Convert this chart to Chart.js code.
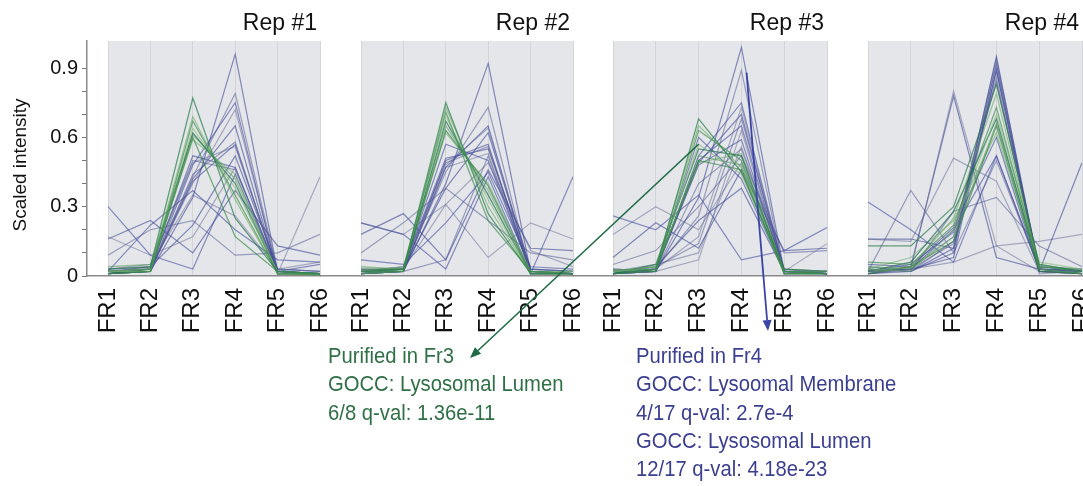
<!DOCTYPE html>
<html><head><meta charset="utf-8">
<script src="https://cdn.jsdelivr.net/npm/chart.js@4.4.1/dist/chart.umd.min.js"></script>
<style>
html,body{margin:0;padding:0;background:#fff;width:1083px;height:486px;overflow:hidden;position:relative;}
canvas.c{position:absolute;top:0;}
#ov{position:absolute;left:0;top:0;z-index:10;pointer-events:none;}
.note{position:absolute;z-index:11;font-family:"Liberation Sans",Arial,sans-serif;font-size:22px;line-height:28.25px;white-space:nowrap;transform:scaleX(0.92);transform-origin:0 0;}
</style></head><body>
<canvas id="c1" class="c"></canvas>
<canvas id="c2" class="c"></canvas>
<canvas id="c3" class="c"></canvas>
<canvas id="c4" class="c"></canvas>
<canvas id="ov" width="1083" height="486"></canvas>
<div class="note" id="ng" style="left:328px;top:342px;color:#2f7046"></div>
<div class="note" id="nb" style="left:636px;top:342px;color:#3b3f8f"></div>
<script>
// ---------------- DATA ----------------
const fractions = ["FR1","FR2","FR3","FR4","FR5","FR6"];
const repTitles = ["Rep #1","Rep #2","Rep #3","Rep #4"];
const yTickLabels = [0, 0.3, 0.6, 0.9];
const yTitle = "Scaled intensity";

const rep1Green = [
  [0.03,0.04,0.77,0.25,0.02,0.01],
  [0.02,0.03,0.69,0.33,0.01,0.01],
  [0.01,0.02,0.67,0.35,0.01,0.005],
  [0.02,0.02,0.64,0.38,0.02,0.01],
  [0.01,0.03,0.62,0.40,0.01,0.01],
  [0.04,0.05,0.61,0.42,0.01,0.01],
  [0.01,0.02,0.60,0.17,0.02,0.01],
  [0.02,0.03,0.59,0.44,0.01,0.005]
];
const rep1Blue = [
  [0.01,0.02,0.34,0.96,0.02,0.01],
  [0.02,0.03,0.43,0.79,0.02,0.01],
  [0.01,0.02,0.48,0.75,0.01,0.01],
  [0.02,0.03,0.40,0.72,0.02,0.01],
  [0.01,0.02,0.42,0.65,0.01,0.01],
  [0.01,0.02,0.44,0.58,0.01,0.01],
  [0.02,0.03,0.41,0.57,0.02,0.01],
  [0.01,0.04,0.49,0.56,0.02,0.01],
  [0.02,0.03,0.52,0.47,0.02,0.01],
  [0.03,0.04,0.50,0.46,0.03,0.02],
  [0.30,0.09,0.03,0.44,0.02,0.05],
  [0.17,0.09,0.17,0.47,0.01,0.43],
  [0.16,0.24,0.10,0.37,0.13,0.09],
  [0.09,0.20,0.24,0.09,0.10,0.18],
  [0.02,0.22,0.37,0.20,0.07,0.06],
  [0.03,0.05,0.35,0.26,0.03,0.06],
  [0.02,0.04,0.22,0.52,0.03,0.02]
];
const rep2Green = [
  [0.02,0.03,0.75,0.27,0.01,0.01],
  [0.01,0.02,0.73,0.30,0.01,0.01],
  [0.03,0.03,0.71,0.24,0.02,0.01],
  [0.02,0.04,0.69,0.33,0.01,0.02],
  [0.01,0.02,0.67,0.35,0.01,0.01],
  [0.04,0.03,0.65,0.37,0.02,0.01],
  [0.02,0.02,0.63,0.39,0.01,0.01],
  [0.01,0.03,0.62,0.40,0.02,0.02]
];
const rep2Blue = [
  [0.01,0.02,0.40,0.92,0.02,0.01],
  [0.02,0.03,0.45,0.73,0.01,0.01],
  [0.01,0.02,0.47,0.65,0.02,0.01],
  [0.02,0.03,0.48,0.64,0.01,0.02],
  [0.01,0.02,0.50,0.57,0.01,0.01],
  [0.02,0.04,0.49,0.56,0.02,0.01],
  [0.01,0.03,0.57,0.50,0.02,0.01],
  [0.03,0.02,0.47,0.53,0.01,0.01],
  [0.02,0.03,0.38,0.62,0.03,0.02],
  [0.01,0.02,0.07,0.52,0.02,0.01],
  [0.23,0.18,0.03,0.43,0.01,0.43],
  [0.23,0.18,0.31,0.08,0.23,0.16],
  [0.18,0.27,0.07,0.46,0.12,0.11],
  [0.10,0.23,0.38,0.24,0.10,0.07],
  [0.07,0.05,0.23,0.45,0.04,0.03],
  [0.03,0.03,0.31,0.49,0.11,0.04],
  [0.02,0.04,0.51,0.55,0.03,0.02]
];
const rep3Green = [
  [0.01,0.03,0.68,0.45,0.02,0.01],
  [0.02,0.04,0.65,0.47,0.01,0.01],
  [0.01,0.02,0.63,0.50,0.03,0.02],
  [0.02,0.03,0.57,0.44,0.02,0.01],
  [0.01,0.05,0.55,0.52,0.01,0.01],
  [0.03,0.02,0.52,0.48,0.02,0.02],
  [0.01,0.03,0.50,0.46,0.01,0.01],
  [0.02,0.04,0.49,0.53,0.02,0.01]
];
const rep3Blue = [
  [0.01,0.02,0.34,0.99,0.02,0.01],
  [0.02,0.03,0.26,0.89,0.01,0.01],
  [0.01,0.02,0.52,0.75,0.02,0.01],
  [0.02,0.03,0.17,0.73,0.01,0.02],
  [0.01,0.02,0.49,0.70,0.02,0.01],
  [0.02,0.04,0.14,0.68,0.03,0.02],
  [0.01,0.03,0.50,0.65,0.02,0.01],
  [0.03,0.02,0.07,0.63,0.01,0.01],
  [0.02,0.03,0.48,0.59,0.02,0.02],
  [0.01,0.02,0.40,0.55,0.03,0.01],
  [0.26,0.20,0.35,0.07,0.11,0.21],
  [0.18,0.30,0.20,0.49,0.02,0.14],
  [0.08,0.23,0.12,0.46,0.11,0.12],
  [0.05,0.11,0.30,0.52,0.10,0.11],
  [0.03,0.02,0.60,0.42,0.02,0.01],
  [0.02,0.05,0.10,0.56,0.03,0.02],
  [0.01,0.04,0.24,0.38,0.02,0.01]
];
const rep4Green = [
  [0.13,0.13,0.30,0.83,0.05,0.02],
  [0.02,0.04,0.25,0.79,0.03,0.01],
  [0.06,0.05,0.22,0.73,0.04,0.02],
  [0.03,0.02,0.20,0.70,0.06,0.03],
  [0.02,0.06,0.28,0.68,0.03,0.01],
  [0.04,0.03,0.17,0.66,0.05,0.02],
  [0.01,0.04,0.15,0.65,0.02,0.01],
  [0.03,0.08,0.24,0.62,0.04,0.03]
];
const rep4Blue = [
  [0.01,0.02,0.12,0.95,0.02,0.01],
  [0.02,0.03,0.14,0.94,0.03,0.02],
  [0.03,0.02,0.10,0.92,0.02,0.01],
  [0.01,0.04,0.17,0.91,0.01,0.02],
  [0.02,0.03,0.08,0.89,0.03,0.01],
  [0.04,0.02,0.15,0.86,0.02,0.03],
  [0.02,0.05,0.19,0.84,0.04,0.02],
  [0.01,0.03,0.80,0.13,0.02,0.01],
  [0.02,0.04,0.78,0.08,0.03,0.02],
  [0.02,0.37,0.10,0.50,0.03,0.02],
  [0.32,0.20,0.06,0.52,0.03,0.02],
  [0.16,0.15,0.51,0.41,0.02,0.01],
  [0.05,0.04,0.21,0.60,0.02,0.49],
  [0.03,0.02,0.28,0.34,0.13,0.04],
  [0.01,0.03,0.20,0.52,0.03,0.02],
  [0.02,0.03,0.06,0.13,0.15,0.18],
  [0.16,0.16,0.12,0.89,0.04,0.03]
];
const greenNote = ["Purified in Fr3","GOCC: Lysosomal Lumen","6/8 q-val: 1.36e-11"];
const blueNote = ["Purified in Fr4","GOCC: Lysoomal Membrane","4/17 q-val: 2.7e-4","GOCC: Lysosomal Lumen","12/17 q-val: 4.18e-23"];

// ---------------- LAYOUT / STYLE ----------------
const reps = [[rep1Green,rep1Blue],[rep2Green,rep2Blue],[rep3Green,rep3Blue],[rep4Green,rep4Blue]];
const H = 486, TOP = 41, BOTTOM = 276, EXTRA = 16;
const panels = [[108,320],[361,573],[613,827],[868,1082]];
const areaLeft = [87,320,573,827];
const FONT = '"Liberation Sans", Arial, sans-serif';
const greenCols = ['rgba(40,125,75,0.7)','rgba(95,165,85,0.55)','rgba(55,140,70,0.65)','rgba(120,180,110,0.55)','rgba(30,110,80,0.7)','rgba(80,155,90,0.55)','rgba(45,130,60,0.65)','rgba(100,170,100,0.55)'];
const blueCols = ['rgba(60,70,150,0.6)','rgba(85,92,150,0.55)','rgba(65,75,160,0.6)','rgba(100,105,150,0.5)'];

document.getElementById('ng').innerHTML = greenNote.join('<br>');
document.getElementById('nb').innerHTML = blueNote.join('<br>');

const bgPlugin = {
  id:'panelBg',
  beforeDraw(chart, args, opts){
    const {ctx, chartArea, scales} = chart;
    const x0 = scales.x.getPixelForValue(0), x1 = scales.x.getPixelForValue(5);
    ctx.save();
    ctx.fillStyle = '#e5e6e9';
    ctx.fillRect(x0, chartArea.top, x1-x0, chartArea.bottom-chartArea.top);
    ctx.restore();
  },
  afterDraw(chart, args, opts){
    const {ctx, scales, chartArea} = chart;
    ctx.save();
    ctx.font = '23px ' + FONT;
    ctx.fillStyle = '#111';
    ctx.textAlign = 'right';
    ctx.textBaseline = 'alphabetic';
    ctx.fillText(opts.title, scales.x.getPixelForValue(5) - 3, 30);
    if (opts.yTitle) {
      ctx.translate(21, 165);
      ctx.rotate(-Math.PI/2);
      ctx.font = '19px ' + FONT;
      ctx.textAlign = 'center';
      ctx.textBaseline = 'middle';
      ctx.fillText(opts.yTitle, 0, 0);
    }
    ctx.restore();
  }
};

const charts = [];
reps.forEach((rep, i) => {
  const cv = document.getElementById('c'+(i+1));
  const left = i === 0 ? 0 : areaLeft[i];
  const right = panels[i][1] + EXTRA;
  const w = right - left;
  cv.width = w; cv.height = H;
  cv.style.left = left + 'px';
  cv.style.width = w + 'px'; cv.style.height = H + 'px';
  const spacing = (panels[i][1]-panels[i][0]) / 5;
  const xmin = -(panels[i][0]-areaLeft[i]) / spacing;
  const datasets = [];
  rep[0].forEach((vals, k) => datasets.push({
    data: vals.map((v, j) => ({x:j, y:v})),
    borderColor: greenCols[k % greenCols.length], borderWidth: 1.3
  }));
  rep[1].forEach((vals, k) => datasets.push({
    data: vals.map((v, j) => ({x:j, y:v})),
    borderColor: blueCols[k % blueCols.length], borderWidth: 1.2
  }));
  const yScale = {
    display: i === 0,
    min:0, max:1.017,
    afterBuildTicks(s){ s.ticks = [0,0.1,0.2,0.3,0.4,0.5,0.6,0.7,0.8,0.9].map(v => ({value:v})); },
    ticks:{autoSkip:false, padding:4, font:{family:FONT, size:20}, color:'#111',
           callback:(v) => { const m = yTickLabels.find(t => Math.abs(t - v) < 1e-6); return m === undefined ? '' : String(m); }},
    grid:{drawOnChartArea:false, drawTicks:true, tickLength:5, color:'#777'},
    border:{display:true, color:'#8a8a8a', width:1.5}
  };
  if (i === 0) yScale.afterFit = (s) => { s.width = areaLeft[0]; };
  const ch = new Chart(cv, {
    type:'line',
    data:{datasets},
    plugins:[bgPlugin],
    options:{
      responsive:false, animation:false, devicePixelRatio:1,
      layout:{padding:{top:TOP, left:0, right:EXTRA, bottom:0}},
      elements:{point:{radius:0}, line:{tension:0}},
      plugins:{legend:{display:false}, tooltip:{enabled:false},
               panelBg:{title:repTitles[i], yTitle: i === 0 ? yTitle : null}},
      scales:{
        x:{
          type:'linear', min:xmin, max:5,
          afterBuildTicks(s){ s.ticks = fractions.map((f, j) => ({value:j})); },
          afterFit(s){ s.height = H - BOTTOM; s.paddingLeft = 0; s.paddingRight = 0; },
          ticks:{autoSkip:false, minRotation:90, maxRotation:90, padding:12,
                 font:{family:FONT, size:24}, color:'#111',
                 callback:(v) => fractions[v]},
          grid:{color:'#d3d4da', lineWidth:1, drawTicks:false},
          border:{display:true, color:'#8a8a8a', width:1.5}
        },
        y: yScale
      }
    }
  });
  charts.push(ch);
});

// ---------------- ANNOTATION ARROWS ----------------
function arrow(ctx, x0, y0, x1, y1, color, lw){
  ctx.save();
  ctx.strokeStyle = color; ctx.fillStyle = color; ctx.lineWidth = lw;
  const a = Math.atan2(y1-y0, x1-x0), L = 11, hw = 4.5;
  const bx = x1 - L*Math.cos(a), by = y1 - L*Math.sin(a);
  ctx.beginPath(); ctx.moveTo(x0,y0); ctx.lineTo(bx,by); ctx.stroke();
  ctx.beginPath();
  ctx.moveTo(x1,y1);
  ctx.lineTo(bx + hw*Math.sin(a), by - hw*Math.cos(a));
  ctx.lineTo(bx - hw*Math.sin(a), by + hw*Math.cos(a));
  ctx.closePath(); ctx.fill();
  ctx.restore();
}
const ov = document.getElementById('ov').getContext('2d');
const c3 = charts[2];
const off3 = areaLeft[2];
const gx = off3 + c3.scales.x.getPixelForValue(2), gy = c3.scales.y.getPixelForValue(0.57);
arrow(ov, gx, gy, 470, 358, '#1f6b45', 1.6);
const bx0 = off3 + c3.scales.x.getPixelForValue(3.12), by0 = c3.scales.y.getPixelForValue(0.88);
arrow(ov, bx0, by0, 768, 331, '#3a45a5', 1.8);
</script>
</body></html>
